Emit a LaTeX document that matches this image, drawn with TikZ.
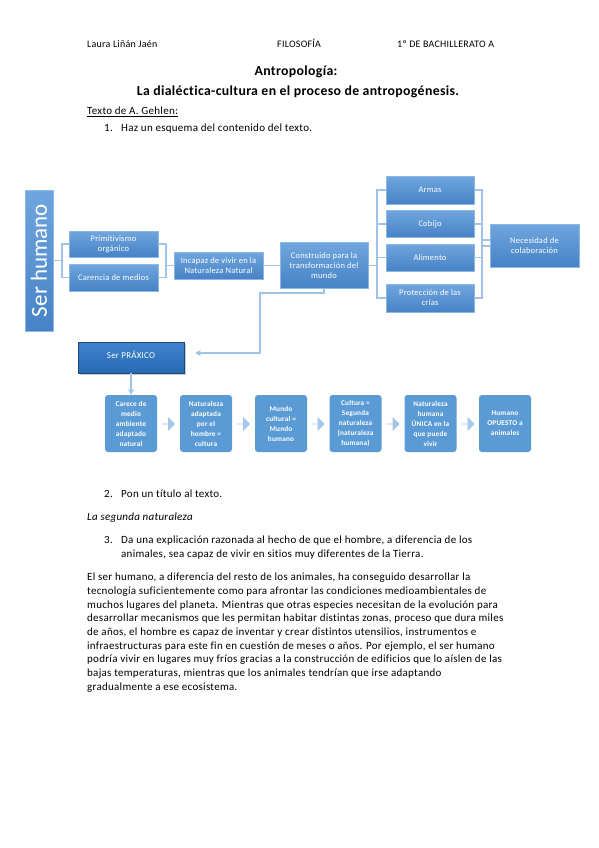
\documentclass[tikz,border=0pt]{standalone}
\usepackage{fontspec}
\setmainfont{Carlito}[Ligatures=NoCommon]
\newfontfamily\spacedfont{Carlito}[LetterSpace=2.5, Ligatures=NoCommon]
\usetikzlibrary{arrows.meta, positioning, shapes.arrows, shadows}

\definecolor{boxtop}{RGB}{112,166,222}
\definecolor{boxbot}{RGB}{70,130,198}
\definecolor{boxrim}{RGB}{140,184,230}
\definecolor{linkblue}{RGB}{160,196,232}
\definecolor{tileblue}{RGB}{91,155,213}
\definecolor{chevblue}{RGB}{166,198,234}
\definecolor{praxtop}{RGB}{62,132,204}
\definecolor{praxbot}{RGB}{40,106,180}
\definecolor{praxrim}{RGB}{28,72,124}

\begin{document}
\begin{tikzpicture}[x=1pt, y=-1pt,
  smartbox/.style={draw=boxrim, line width=0.6pt, top color=boxtop, bottom color=boxbot,
    text=white, font=\spacedfont\fontsize{8.5}{10}\selectfont, align=center, inner sep=1pt},
  tile/.style={fill=tileblue, rounded corners=3pt, text=white,
    font=\spacedfont\fontsize{7.3}{10}\selectfont\bfseries, align=center,
    minimum width=52pt, minimum height=57pt, inner sep=0pt},
  chev/.style={single arrow, fill=chevblue, minimum width=14pt, minimum height=13pt,
    single arrow head extend=3pt, inner sep=0pt},
  link/.style={draw=linkblue, line width=1.2pt},
  head/.style={font=\spacedfont\fontsize{10}{12}\selectfont, anchor=west, inner sep=0pt,
    text height=7pt, text depth=2pt},
  titlefont/.style={font=\spacedfont\fontsize{13.8}{16}\selectfont\bfseries,
    text height=10pt, text depth=3pt},
  body/.style={font=\spacedfont\fontsize{11}{13.66}\selectfont, anchor=west, inner sep=0pt,
    text height=7.5pt, text depth=2pt},
  para/.style={font=\spacedfont\fontsize{11}{13.66}\selectfont, anchor=north west,
    inner sep=0pt, align=left},
]
  % page 599 x 848, 1pt per pixel, y downwards
  \fill[white] (0,0) rectangle (599,848);
  \useasboundingbox (0,0) rectangle (599,848);

  % header
  \node[head] (author) at (87,45) {Laura Liñán Jaén};
  \node[head] (subject) at (277,45) {FILOSOFÍA};
  \node[head] (course) at (397,45) {1º DE BACHILLERATO A};
  \node[titlefont] (title) at (296,72) {Antropología:};
  \node[titlefont] (subtitle) at (298,92)
    {La dialéctica-cultura en el proceso de antropogénesis.};
  \node[body] (source) at (87,112) {\underline{Texto de A. Gehlen:}};
  \node[body] (qonenum) at (104,129) {1.};
  \node[body] (qone) at (121,129) {Haz un esquema del contenido del texto.};

  % scheme, first row
  \node[smartbox, rotate=90, minimum width=141pt, minimum height=28pt,
    font=\fontsize{23}{23}\selectfont] (serhum) at (39,260.5) {Ser humano};
  \node[smartbox, minimum width=89pt, minimum height=26pt] (prim) at (113.5,244)
    {Primitivismo\\orgánico};
  \node[smartbox, minimum width=89pt, minimum height=27pt] (caren) at (113.5,277.5)
    {Carencia de medios};
  \node[smartbox, minimum width=89pt, minimum height=27pt] (incap) at (218.5,265.5)
    {Incapaz de vivir en la\\Naturaleza Natural};
  \node[smartbox, minimum width=88pt, minimum height=46pt] (constr) at (324,265.5)
    {Construido para la\\transformación del\\mundo};
  \node[smartbox, minimum width=88pt, minimum height=28pt] (armas) at (430,190) {Armas};
  \node[smartbox, minimum width=88pt, minimum height=27pt] (cobijo) at (430,224) {Cobijo};
  \node[smartbox, minimum width=88pt, minimum height=27pt] (alim) at (430,257.5) {Alimento};
  \node[smartbox, minimum width=88pt, minimum height=28pt] (crias) at (430,298)
    {Protección de las\\crías};
  \node[smartbox, minimum width=89pt, minimum height=43pt] (colab) at (534.5,245.5)
    {Necesidad de\\colaboración};

  \coordinate (splitA) at (62,260.5);
  \draw[link] (serhum.south) -- (splitA);
  \draw[link] (prim.west) -| (splitA) |- (caren.west);
  \coordinate (joinA) at (166,265.5);
  \draw[link] (prim.east) -| (joinA) |- (caren.east);
  \draw[link] (joinA) -- (incap.west);
  \draw[link] (incap.east) -- (constr.west);

  \coordinate (splitB) at (377,265.5);
  \draw[link] (constr.east) -- (splitB);
  \draw[link] (armas.west) -| (splitB) |- (crias.west);
  \draw[link] (cobijo.west) -- (cobijo.west -| splitB);
  \draw[link] (alim.west) -- (alim.west -| splitB);
  \coordinate (joinB) at (482,243);
  \draw[link] (armas.east) -| (joinB) |- (crias.east);
  \draw[link] (cobijo.east) -- (cobijo.east -| joinB);
  \draw[link] (alim.east) -- (alim.east -| joinB);
  \draw[link] ([yshift=3pt]joinB) -- ([yshift=3pt]joinB -| colab.west);
  \draw[link] ([yshift=-3pt]joinB) -- ([yshift=-3pt]joinB -| colab.west);

  % back to the practical being
  \node[draw=praxrim, line width=0.8pt, top color=praxtop, bottom color=praxbot,
    drop shadow={shadow xshift=1.5pt, shadow yshift=-2pt, opacity=0.4},
    minimum width=106pt, minimum height=31pt, text=white, text depth=5pt,
    font=\spacedfont\fontsize{9}{10}\selectfont] (prax) at (131,357.5) {Ser PRÁXICO};
  \coordinate (bendA) at (260,293);
  \coordinate (praxtip) at (195,353);
  \draw[link, -{Stealth[length=6pt, width=6pt]}] (constr.south) |- (bendA) |- (praxtip);

  % second row
  \node[tile] (carece) at (131,423.5) {Carece de\\medio\\ambiente\\adaptado\\natural};
  \node[tile] (adaptada) at (206,423.5) {Naturaleza\\adaptada\\por el\\hombre =\\cultura};
  \node[tile] (mundo) at (281,423.5) {Mundo\\cultural =\\Mundo\\humano};
  \node[tile] (segunda) at (355.5,423.5) {Cultura =\\Segunda\\naturaleza\\(naturaleza\\humana)};
  \node[tile] (unica) at (430.5,423.5) {Naturaleza\\humana\\ÚNICA en la\\que puede\\vivir};
  \node[tile] (opuesto) at (505,423.5) {Humano\\OPUESTO a\\animales};
  \node[chev] (chevA) at (168.5,424) {};
  \node[chev] (chevB) at (243.5,424) {};
  \node[chev] (chevC) at (318,424) {};
  \node[chev] (chevD) at (393,424) {};
  \node[chev] (chevE) at (468,424) {};
  \draw[link, -{Stealth[length=6pt, width=6pt]}] (prax.south) -- (carece.north);

  % questions and answer
  \node[body] (qtwonum) at (104,495) {2.};
  \node[body] (qtwo) at (121,495) {Pon un título al texto.};
  \node[body, font=\spacedfont\fontsize{11}{13.66}\selectfont\itshape] (answer) at (87,518)
    {La segunda naturaleza};
  \node[body] (qthreenum) at (104,541) {3.};
  \node[para] (qthree) at (121,536)
    {Da una explicación razonada al hecho de que el hombre, a diferencia de los\\
     animales, sea capaz de vivir en sitios muy diferentes de la Tierra.};
  \node[para] (essay) at (87,573)
    {El ser humano, a diferencia del resto de los animales, ha conseguido desarrollar la\\
     tecnología suficientemente como para afrontar las condiciones medioambientales de\\
     muchos lugares del planeta. Mientras que otras especies necesitan de la evolución para\\
     desarrollar mecanismos que les permitan habitar distintas zonas, proceso que dura miles\\
     de años, el hombre es capaz de inventar y crear distintos utensilios, instrumentos e\\
     infraestructuras para este fin en cuestión de meses o años. Por ejemplo, el ser humano\\
     podría vivir en lugares muy fríos gracias a la construcción de edificios que lo aíslen de las\\
     bajas temperaturas, mientras que los animales tendrían que irse adaptando\\
     gradualmente a ese ecosistema.};
\end{tikzpicture}
\end{document}
